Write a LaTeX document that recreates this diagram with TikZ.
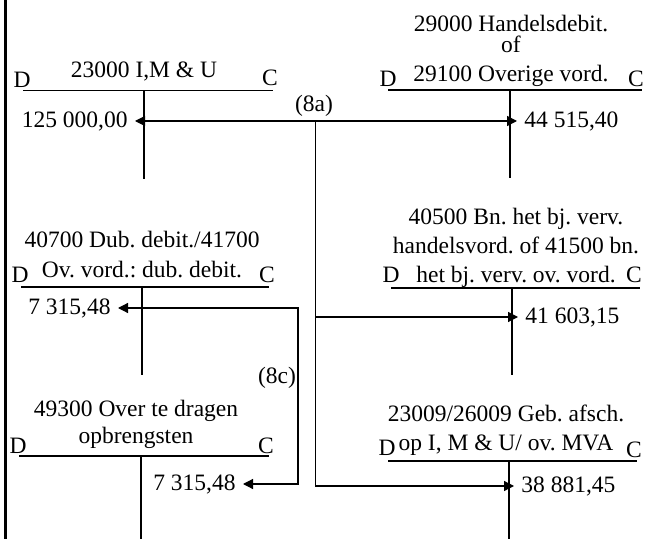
\documentclass[tikz,border=0pt]{standalone}
\usepackage{fontspec}
\setmainfont{Liberation Serif}
\frenchspacing
\usetikzlibrary{arrows.meta,positioning}
\tikzset{
  ttl/.style   = {align=center, inner sep=0pt, anchor=base,
                  font=\fontsize{11.75bp}{14.5bp}\selectfont},
  side/.style  = {inner sep=0pt, anchor=base, font=\fontsize{11.75bp}{14.5bp}\selectfont},
  amt/.style   = {inner sep=3.5bp, font=\fontsize{11.75bp}{14.5bp}\selectfont},
  tline/.style = {line width=0.8bp},
  sig/.style   = {-{Triangle[length=5bp,width=5bp]}, line width=0.6bp},
}
% T-account: name, y of rule, left x, middle x, right x, bottom y
\newcommand{\tacct}[6]{%
  \coordinate (#1l) at (#3,#2);
  \coordinate (#1r) at (#5,#2);
  \coordinate (#1m) at (#4,#2);
  \coordinate (#1b) at (#4,#6);
  \draw[tline] (#1l) -- (#1r) (#1m) -- (#1b);}

\begin{document}
\begin{tikzpicture}[x=0.5bp, y=-0.5bp]
\useasboundingbox (0,0) rectangle (648,539);
% ---- left edge ----
\coordinate (edgetop) at (5,0);
\coordinate (edgebot) at (5,539);
\draw[line width=1.5bp] (edgetop) -- (edgebot);
% ---- accounts (title anchored on its last line) ----
\node[ttl] (imu) at (144,78) {23000 I,M \& U};
\node[side] (imud) at (22,88) {D};
\node[side] (imuc) at (270,86) {C};
\tacct{timu}{90.5}{23}{144}{273}{179}

\node[ttl] (hdeb) at (511,82) {29000 Handelsdebit.\\[-4bp] of\\ 29100 Overige vord.};
\node[side] (hdebd) at (388,87) {D};
\node[side] (hdebc) at (636,87) {C};
\tacct{thdeb}{90}{388}{510}{642}{178}

\node[ttl] (dub) at (142,278) {40700 Dub. debit./41700\\[0.5bp] Ov. vord.: dub. debit.};
\node[side] (dubd) at (20,283) {D};
\node[side] (dubc) at (267,283) {C};
\tacct{tdub}{287}{21}{142}{269}{375}

\node[ttl] (bnh) at (516,283) {40500 Bn. het bj. verv.\\ handelsvord. of 41500 bn.\\ het bj. verv. ov. vord.};
\node[side] (bnhd) at (391,283) {D};
\node[side] (bnhc) at (634,283) {C};
\tacct{tbnh}{288}{391}{512}{640}{375}

\node[ttl] (otd) at (136,443) {49300 Over te dragen\\[-1bp] opbrengsten};
\node[side] (otdd) at (18,453) {D};
\node[side] (otdc) at (266,453) {C};
\tacct{totd}{456}{19}{141}{269}{539}

\node[ttl] (afs) at (506,450) {23009/26009 Geb. afsch.\\ op I, M \& U/ ov. MVA};
\node[side] (afsd) at (387,455) {D};
\node[side] (afsc) at (634,457) {C};
\tacct{tafs}{461}{388}{509}{637}{539}

% ---- amounts ----
\node[amt, anchor=east] (amt1) at (135,121) {125 000,00};
\node[amt, anchor=west] (amt2) at (517,121) {44 515,40};
\node[amt, anchor=east] (amt3) at (118,308) {7 315,48};
\node[amt, anchor=west] (amt4) at (518,317) {41 603,15};
\node[amt, anchor=east] (amt5) at (243,484) {7 315,48};
\node[amt, anchor=west] (amt6) at (514,486) {38 881,45};

% ---- entry (8a) ----
\coordinate (s8a) at (315,121);
\coordinate (j8a) at (315,317);
\coordinate (k8a) at (315,486);
\node[side, anchor=center] (l8a) at (314,106) {(8a)};
\draw[sig] (s8a) -- (amt1);
\draw[sig] (s8a) -- (amt2);
\draw (s8a) -- (k8a);
\draw[sig] (j8a) -- (amt4);
\draw[sig] (k8a) -- (amt6);

% ---- entry (8c) ----
\coordinate (k8c) at (298,400);
\node[side, anchor=center] (l8c) at (277,378) {(8c)};
\draw[sig, {Triangle[length=5bp,width=5bp]}-{Triangle[length=5bp,width=5bp]}] (amt3) -| (k8c) |- (amt5);
\end{tikzpicture}
\end{document}
